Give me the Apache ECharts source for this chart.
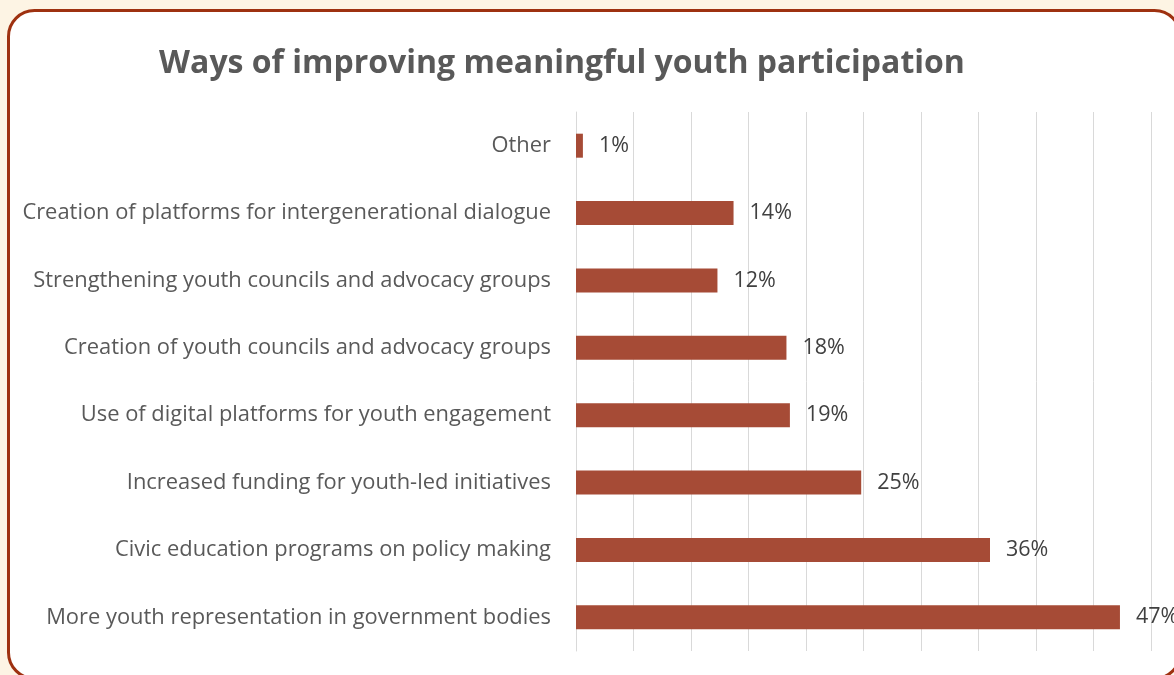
<!DOCTYPE html>
<html>
<head>
<meta charset="utf-8">
<script src="https://cdn.jsdelivr.net/npm/echarts@6/dist/echarts.min.js"></script>
<style>
html,body{margin:0;padding:0;background:#FDF4E4;}
#c{width:1174px;height:675px;}
</style>
</head>
<body>
<div id="c"></div>
<script>
const categories = [
  "More youth representation in government bodies",
  "Civic education programs on policy making",
  "Increased funding for youth-led initiatives",
  "Use of digital platforms for youth engagement",
  "Creation of youth councils and advocacy groups",
  "Strengthening youth councils and advocacy groups",
  "Creation of platforms for intergenerational dialogue",
  "Other"
];
const values = [47.3, 36.0, 24.8, 18.6, 18.3, 12.3, 13.7, 0.6];
const axisTicks = [0, 5, 10, 15, 20, 25, 30, 35, 40, 45, 50];

const chart = echarts.init(document.getElementById('c'));
chart.setOption({
  backgroundColor: 'transparent',
  animation: false,
  graphic: [{
    type: 'rect',
    z: -10,
    shape: {x: 8.5, y: 10.5, width: 1172, height: 668, r: 26},
    style: {fill: '#ffffff', stroke: '#9E3110', lineWidth: 3}
  }],
  title: {
    text: 'Ways of improving meaningful youth participation',
    left: 557, top: 43, textAlign: 'center',
    textStyle: {fontFamily: 'Open Sans', fontWeight: 'bold', fontSize: 32, color: '#595959'}
  },
  grid: {left: 576, right: 1174 - 1151, top: 112, bottom: 24, containLabel: false},
  xAxis: {
    type: 'value', min: axisTicks[0], max: axisTicks[axisTicks.length - 1], interval: 5,
    axisLabel: {show: false}, axisTick: {show: false}, axisLine: {show: false},
    splitLine: {show: true, lineStyle: {color: '#D9D9D9', width: 1}}
  },
  yAxis: {
    type: 'category', data: categories,
    axisTick: {show: false},
    axisLine: {show: true, lineStyle: {color: '#D9D9D9', width: 1}},
    axisLabel: {margin: 25, fontFamily: 'Open Sans', fontSize: 21.9, color: '#595959', padding: [3, 0, 0, 0]}
  },
  series: [{
    type: 'bar', data: values, barWidth: 24,
    itemStyle: {color: '#A64B36'},
    label: {
      show: true, position: 'right', distance: 16,
      fontFamily: 'Open Sans', fontSize: 21.5, color: '#404040',
      padding: [3, 0, 0, 0],
      formatter: p => Math.round(p.value) + '%'
    }
  }]
});
</script>
</body>
</html>
